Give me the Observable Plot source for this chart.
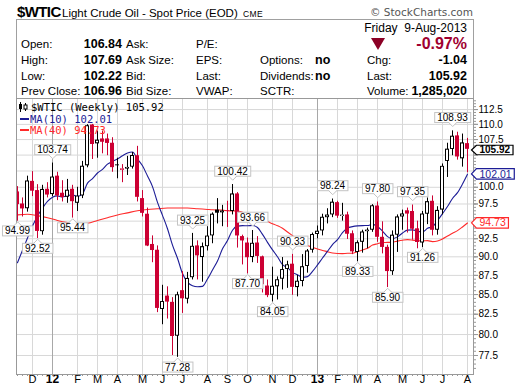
<!DOCTYPE html>
<html><head><meta charset="utf-8">
<script src="https://cdn.jsdelivr.net/npm/d3@7"></script>
<script src="https://cdn.jsdelivr.net/npm/@observablehq/plot@0.6"></script>
<style>
html,body{margin:0;padding:0;background:#fff;}
#wrap{position:relative;width:520px;height:391px;overflow:hidden;font-family:"Liberation Sans",Arial,sans-serif;color:#000;}
.a{position:absolute;white-space:nowrap;line-height:14px;font-size:11.5px;}
.b{font-weight:bold;font-size:12.5px;}
#box{position:absolute;left:16px;top:19px;width:456px;height:79px;border:1px solid #a0a0a0;border-bottom:none;}
#chart{position:absolute;left:0;top:97px;}
.lg{position:absolute;white-space:nowrap;font-family:"DejaVu Sans Mono",monospace;font-size:10.5px;line-height:12px;}
</style></head>
<body><div id="wrap">
<div id="box"></div>
<div class="a" style="left:17px;top:3px;font-size:15px;font-weight:bold;line-height:18px;letter-spacing:-0.6px">$WTIC</div>
<div class="a" style="left:62px;top:6px;font-size:11.5px">Light Crude Oil - Spot Price (EOD)</div>
<div class="a" style="left:243px;top:7px;font-size:8.5px;letter-spacing:0.4px">CME</div>
<div class="a" style="right:47px;top:5px;font-family:'DejaVu Sans';font-size:10.5px;color:#555">© StockCharts.com</div>
<div class="a" style="right:53px;top:21px;font-size:12px">Friday&nbsp; 9-Aug-2013</div>
<div style="position:absolute;left:371px;top:38px;width:0;height:0;border-left:7px solid transparent;border-right:7px solid transparent;border-top:12px solid #8b0025"></div>
<div class="a" style="right:53px;top:36px;font-size:16px;font-weight:bold;color:#a00030;line-height:16px">-0.97%</div>

<div class="a" style="left:21px;top:37px">Open:</div>
<div class="a b" style="right:398px;top:37px">106.84</div>
<div class="a" style="left:126px;top:37px">Ask:</div>
<div class="a" style="left:196px;top:37px">P/E:</div>

<div class="a" style="left:21px;top:53px">High:</div>
<div class="a b" style="right:398px;top:53px">107.69</div>
<div class="a" style="left:126px;top:53px">Ask Size:</div>
<div class="a" style="left:196px;top:53px">EPS:</div>
<div class="a" style="left:260px;top:53px">Options:</div>
<div class="a b" style="left:315px;top:53px">no</div>
<div class="a" style="left:367px;top:53px">Chg:</div>
<div class="a b" style="right:53px;top:53px">-1.04</div>

<div class="a" style="left:21px;top:69px">Low:</div>
<div class="a b" style="right:398px;top:69px">102.22</div>
<div class="a" style="left:126px;top:69px">Bid:</div>
<div class="a" style="left:196px;top:69px">Last:</div>
<div class="a" style="left:260px;top:69px">Dividends:</div>
<div class="a b" style="left:315px;top:69px">no</div>
<div class="a" style="left:367px;top:69px">Last:</div>
<div class="a b" style="right:53px;top:69px">105.92</div>

<div class="a" style="left:21px;top:84px">Prev Close:</div>
<div class="a b" style="right:398px;top:84px">106.96</div>
<div class="a" style="left:126px;top:84px">Bid Size:</div>
<div class="a" style="left:196px;top:84px">VWAP:</div>
<div class="a" style="left:260px;top:84px">SCTR:</div>
<div class="a" style="left:367px;top:84px">Volume:</div>
<div class="a b" style="right:53px;top:84px">1,285,020</div>

<div id="chart"></div>
<div id="legend"></div>
</div>
<script>
// ---- data (weekly bars, Monday-dated, starting week of 14-Nov-2011) ----
const opens = [99.30,97.50,96.80,100.90,99.50,93.50,99.70,98.90,101.70,99.10,
98.50,99.70,97.60,98.70,103.30,109.90,106.80,107.60,107.60,106.90,
103.45,102.60,102.80,103.10,104.90,98.30,96.00,91.70,90.90,83.10,
84.80,84.00,79.80,85.50,84.40,87.20,91.50,89.90,91.40,92.90,
96.60,96.20,96.50,96.40,99.00,92.80,91.90,89.90,91.90,90.00,
86.10,84.90,86.00,87.00,88.30,89.00,85.90,86.70,88.70,90.90,
93.10,93.60,95.50,95.90,97.70,95.70,95.90,93.20,90.60,92.00,
93.50,93.70,97.20,92.70,91.30,88.00,93.00,95.60,96.50,96.40,
93.90,91.90,96.00,97.90,93.70,96.60,104.00,105.90,108.10,104.40,
106.84];
const highs = [100.10,98.40,101.70,102.40,100.40,100.30,100.70,103.74,102.30,101.00,
101.20,100.30,100.00,104.00,109.95,110.00,108.90,108.90,108.40,107.80,
104.50,103.50,104.80,105.40,106.40,99.50,96.90,92.90,91.50,86.20,
86.00,84.60,85.30,88.00,87.90,93.25,92.20,91.90,94.20,96.20,
98.30,97.30,97.90,100.42,99.20,93.00,92.60,93.66,92.80,90.10,
86.90,88.60,87.30,89.90,89.40,90.33,87.50,90.30,91.00,93.30,
94.30,96.00,96.80,98.24,97.90,97.60,96.30,93.60,92.20,93.70,
94.00,97.40,97.80,94.90,91.60,93.60,95.90,96.60,96.90,97.35,
95.00,96.40,98.40,98.70,97.10,103.60,106.90,108.93,108.70,108.40,
107.69];
const lows = [94.99,95.60,96.30,98.60,92.52,93.00,98.40,98.60,98.00,97.80,
97.60,95.44,96.40,98.30,103.00,104.30,104.50,105.20,104.90,102.30,
101.30,100.70,101.80,102.80,97.80,95.60,91.40,89.20,82.70,81.20,
81.90,77.50,77.28,82.60,83.80,86.90,86.90,86.60,90.80,91.80,
94.60,94.20,94.10,95.90,91.20,88.90,87.70,89.20,89.10,85.20,
84.60,84.05,84.30,85.60,85.80,84.90,84.70,86.00,87.80,90.50,
92.50,92.90,94.60,95.50,95.40,95.00,92.40,90.30,89.33,90.50,
91.10,93.40,92.00,90.40,85.90,87.50,90.60,93.70,93.30,92.30,
91.10,91.26,94.50,92.90,93.00,95.90,101.50,104.90,104.20,103.10,
102.22];
const closes = [97.41,96.77,100.96,99.41,93.53,99.68,98.83,101.56,98.70,98.46,
99.56,97.84,98.67,103.24,109.77,106.70,107.40,107.06,106.87,103.02,
103.31,102.83,103.05,104.93,98.49,96.13,91.48,90.86,83.23,84.10,
84.03,79.76,84.96,84.45,87.10,91.44,90.13,91.40,92.87,96.01,
96.15,96.47,96.42,99.00,92.89,92.19,89.88,91.86,90.05,86.28,
84.86,86.07,86.92,88.28,88.91,85.93,86.73,88.66,90.80,93.09,
93.56,95.56,95.88,97.77,95.72,95.86,93.13,90.68,91.95,93.45,
93.71,97.23,92.70,91.29,88.01,93.00,95.61,96.04,96.02,93.84,
91.97,96.03,97.85,93.69,96.56,103.22,105.95,108.05,104.70,106.96,
105.92];
const ma10 = [89.2,90.9,92.6,94.3,95.7,96.9,97.9,98.5,98.7,
98.53,98.75,98.85,98.62,99.01,100.63,101.33,102.19,102.74,103.56,
104.01,104.39,104.89,105.33,105.49,104.37,103.31,101.72,100.10,97.73,
95.84,93.91,91.61,89.80,87.75,86.61,86.14,86.01,86.06,87.02,
88.22,89.43,91.10,92.24,93.70,94.28,94.35,94.33,94.37,94.09,
93.12,91.99,90.95,90.00,88.93,88.53,87.90,87.59,87.27,87.34,
88.03,88.90,89.84,90.74,91.69,92.37,93.36,94.00,94.21,94.32,
94.36,94.37,94.54,94.22,93.57,92.80,92.52,92.76,93.30,93.71,
93.75,93.57,93.45,93.97,94.21,95.06,96.08,97.12,98.32,99.19,
100.50,102.01];
const ma40Idx = [0,2,4,6,8,10,12,14,16,18,20,22,24,26,28,30,32,34,36,38,
39,40,41,42,43,44,45,46,47,48,49,50,51,52,53,54,55,56,57,58,59,60,61,62,63,64,
65,66,67,68,69,70,71,72,73,74,75,76,77,78,79,80,81,82,83,84,85,86,87,88,89,90];
const ma40Val = [95.9,96.0,95.8,95.5,95.1,94.8,94.6,94.7,95.1,95.5,95.9,96.2,96.5,96.7,96.8,96.9,96.9,96.9,96.8,96.7,
96.65,96.62,96.61,96.50,96.49,96.47,96.28,96.06,95.82,95.60,95.30,94.93,94.64,94.34,93.97,93.45,92.93,92.41,91.95,91.55,
91.30,91.06,90.87,90.70,90.52,90.45,90.44,90.48,90.48,90.70,90.93,91.17,91.61,91.80,91.97,91.99,92.03,92.17,92.29,92.37,
92.31,92.21,92.20,92.23,92.10,92.19,92.47,92.87,93.27,93.64,94.16,94.73];
const highLabelIdx = [7,35,43,47,55,63,72,79,87];
const lowLabelIdx = [0,4,11,32,46,51,68,74,81];
const xTickDates = ["2011-12-05","2012-01-02","2012-02-06","2012-03-05","2012-04-02","2012-05-07","2012-06-04",
"2012-07-02","2012-08-06","2012-09-03","2012-10-01","2012-11-05","2012-12-03","2013-01-07","2013-02-04",
"2013-03-04","2013-04-01","2013-05-06","2013-06-03","2013-07-01","2013-08-05"];
const xTickLabels = ["D","12","F","M","A","M","J","J","A","S","O","N","D","13","F","M","A","M","J","J","A"];
const yTicks = [77.5,80,82.5,85,87.5,90,92.5,95,97.5,100,102.5,105,107.5,110,112.5];
// tick labels that the value tags do not hide
const yTickLabels = [77.5,80,82.5,85,87.5,90,92.5,97.5,100,107.5,110,112.5];

// ---- styling ----
const RED = "#cc0033", BLUE = "#1c1c96", MARED = "#ff2a2a";
const startMonday = new Date(Date.UTC(2011, 10, 14));
const barDates = d3.utcMonday.range(startMonday, new Date(Date.UTC(2013, 7, 6)));
const bars = barDates.map((date, i) => ({
  date, open: opens[i], high: highs[i], low: lows[i], close: closes[i],
  color: closes[i] < (i ? closes[i - 1] : opens[i]) ? RED : "#000"
}));
const ma10Data = ma10.map((v, i) => ({date: barDates[i], value: v}));
const ma40Data = ma40Idx.map((k, j) => ({date: barDates[k], value: ma40Val[j]}));
const ticks = xTickDates.map((s, i) => ({date: new Date(s), label: xTickLabels[i]}));
const monthTicks = ticks.filter(d => isNaN(+d.label));
const yearTicks = ticks.filter(d => !isNaN(+d.label));
const hiData = highLabelIdx.map(k => ({date: barDates[k], value: highs[k]}));
const loData = lowLabelIdx.map(k => ({date: barDates[k], value: lows[k]}));
const last = bars.length - 1;
const minorTicks = d3.range(76, 114.01, 0.5);

// unique marker fills so the decorated texts can be found after rendering
const HI_FILL = "#000001", LO_FILL = "#000002", TAG_C = "#000003";
const tagStroke = {[TAG_C]: "#000", [BLUE]: BLUE, [MARED]: MARED};

const msPerPx = 7 * 864e5 / 5;
const plotW = 520 - 16 - 47;
const xd0 = new Date(+startMonday - msPerPx);
const xd1 = new Date(+xd0 + plotW * msPerPx);

const chart = Plot.plot({
  width: 520, height: 294, marginTop: 1, marginBottom: 17, marginLeft: 16, marginRight: 47,
  style: {fontFamily: '"Liberation Sans", Arial, sans-serif', fontSize: "10px", background: "transparent", overflow: "visible"},
  x: {type: "utc", domain: [xd0, xd1]},
  y: {type: "log", domain: [75.3, 114.4]},
  marks: [
    Plot.ruleY(yTicks, {stroke: "#d8d8d8"}),
    Plot.ruleX(monthTicks, {x: "date", stroke: "#d8d8d8"}),
    Plot.ruleX(yearTicks, {x: "date", stroke: "#a8a8a8"}),
    Plot.axisY({anchor: "right", ticks: minorTicks, tickSize: 2, tickFormat: () => "", label: null, stroke: "#999"}),
    Plot.axisY({anchor: "right", ticks: yTicks, tickSize: 4, tickFormat: () => "", label: null, stroke: "#999"}),
    Plot.axisY({anchor: "right", ticks: yTickLabels, tickSize: 4, tickPadding: 1, tickFormat: d3.format(".1f"), label: null, stroke: "#999", fill: "#000", fontSize: 10}),
    Plot.axisX({ticks: barDates, tickSize: 2, tickFormat: () => "", label: null, stroke: "#999"}),
    Plot.text(monthTicks, {x: "date", text: "label", frameAnchor: "bottom", dy: 8, fontSize: 11}),
    Plot.text(yearTicks, {x: "date", text: "label", frameAnchor: "bottom", dy: 8, fontSize: 12, fontWeight: "bold"}),
    Plot.line(ma40Data, {x: "date", y: "value", stroke: MARED, strokeWidth: 1.1, curve: "monotone-x", clip: true}),
    Plot.line(ma10Data, {x: "date", y: "value", stroke: BLUE, strokeWidth: 1.1, curve: "monotone-x", clip: true}),
    Plot.ruleX(bars.filter(d => d.color === RED), {x: "date", y1: "low", y2: "high", stroke: RED, clip: true}),
    Plot.ruleX(bars.filter(d => d.color !== RED), {x: "date", y1: "low", y2: "high", stroke: "#000", clip: true}),
    Plot.ruleX(bars.filter(d => d.color === RED), {x: "date", y1: d => Math.max(d.open, d.close), y2: d => Math.min(d.open, d.close), stroke: RED, strokeWidth: 4, dx: -0.5, clip: true}),
    Plot.ruleX(bars.filter(d => d.color !== RED), {x: "date", y1: d => Math.max(d.open, d.close), y2: d => Math.min(d.open, d.close), stroke: "#000", strokeWidth: 4, dx: -0.5, clip: true}),
    Plot.ruleX(bars.filter(d => d.close > d.open), {x: "date", y1: "close", y2: "open", stroke: "white", strokeWidth: 2, dx: -0.5, insetTop: 1, insetBottom: 1, clip: true}),
    Plot.frame({stroke: "#999"}),
    Plot.text(hiData, {x: "date", y: "value", text: d => d.value.toFixed(2), dy: -13, fontSize: 10, fill: HI_FILL}),
    Plot.text(loData, {x: "date", y: "value", text: d => d.value.toFixed(2), dy: 10, fontSize: 10, fill: LO_FILL}),
    Plot.text([closes[last]], {y: d => d, text: d => d.toFixed(2), frameAnchor: "right", textAnchor: "start", dx: 6, dy: 0.5, fill: TAG_C, fontSize: 10, fontWeight: "bold"}),
    Plot.text([ma10[last]], {y: d => d, text: d => d.toFixed(2), frameAnchor: "right", textAnchor: "start", dx: 6, fill: BLUE, fontSize: 10.5}),
    Plot.text([ma40Val[ma40Val.length - 1]], {y: d => d, text: d => d.toFixed(2), frameAnchor: "right", textAnchor: "start", dx: 6, fill: MARED, fontSize: 10.5})
  ]
});
document.getElementById("chart").appendChild(chart);

// ---- decorations: label boxes and value tags ----
const NS = "http://www.w3.org/2000/svg";
function el(tag, attrs) { const e = document.createElementNS(NS, tag); for (const k in attrs) e.setAttribute(k, attrs[k]); return e; }
function fillOf(t) { return (t.getAttribute("fill") || t.parentNode.getAttribute("fill") || "").toLowerCase(); }
const allTexts = Array.from(chart.querySelectorAll("text"));
allTexts.filter(t => fillOf(t) === HI_FILL || fillOf(t) === LO_FILL).forEach(t => {
  const hi = fillOf(t) === HI_FILL;
  const b = t.getBBox();
  const g = el("g", {});
  if (t.getAttribute("transform")) g.setAttribute("transform", t.getAttribute("transform"));
  const x0 = b.x - 2.5, w = b.width + 5, y0 = b.y + 0.5, h = b.height - 1;
  const cx = b.x + b.width / 2;
  g.appendChild(el("rect", {x: x0, y: y0, width: w, height: h, fill: "white", stroke: "#c4c4c4"}));
  const ye = hi ? y0 + h : y0, s = hi ? 1 : -1;
  g.appendChild(el("path", {d: `M${cx - 4},${ye - s * 0.6}L${cx},${ye + s * 4}L${cx + 4},${ye - s * 0.6}Z`, fill: "white"}));
  g.appendChild(el("path", {d: `M${cx - 4},${ye}L${cx},${ye + s * 4}L${cx + 4},${ye}`, fill: "none", stroke: "#c4c4c4"}));
  t.parentNode.insertBefore(g, t);
  t.setAttribute("fill", "#000");
});
allTexts.filter(t => [TAG_C, BLUE, MARED].includes(fillOf(t))).forEach(t => {
  const col = tagStroke[fillOf(t)];
  const b = t.getBBox();
  const left = b.x - 3, right = b.x + b.width + 2.5, tip = left - 5;
  const top = b.y + 1.2, bot = b.y + b.height - 0.3, mid = (top + bot) / 2;
  const p = el("path", {d: `M${tip},${mid}L${left},${top}L${right},${top}L${right},${bot}L${left},${bot}Z`, fill: "white", stroke: col, "stroke-width": 1.2});
  if (t.getAttribute("transform")) p.setAttribute("transform", t.getAttribute("transform"));
  t.parentNode.insertBefore(p, t);
  t.setAttribute("fill", col);
});
chart.querySelectorAll("g").forEach(g => { const f = (g.getAttribute("fill") || "").toLowerCase(); if (f === HI_FILL || f === LO_FILL || f === TAG_C) g.setAttribute("fill", "#000"); });

// ---- legend ----
const lg = document.getElementById("legend");
lg.innerHTML = `
<svg style="position:absolute;left:18px;top:102px" width="12" height="10">
 <line x1="2.5" y1="0" x2="2.5" y2="10" stroke="#000"/><rect x="1" y="2" width="3" height="5" fill="#000"/>
 <line x1="7.5" y1="1" x2="7.5" y2="9" stroke="#000"/><rect x="6" y="3" width="3" height="4" fill="#fff" stroke="#000"/>
</svg>
<div class="lg" style="left:31px;top:101px;color:#000">$WTIC (Weekly) ${closes[last].toFixed(2)}</div>
<div style="position:absolute;left:20px;top:118px;width:9px;height:2px;background:${BLUE}"></div>
<div class="lg" style="left:30px;top:113px;color:${BLUE}">MA(10) ${ma10[last].toFixed(2)}</div>
<div style="position:absolute;left:20px;top:129px;width:9px;height:2px;background:${MARED}"></div>
<div class="lg" style="left:30px;top:124px;color:${MARED}">MA(40) ${ma40Val[ma40Val.length - 1].toFixed(2)}</div>`;
</script>
</body></html>
